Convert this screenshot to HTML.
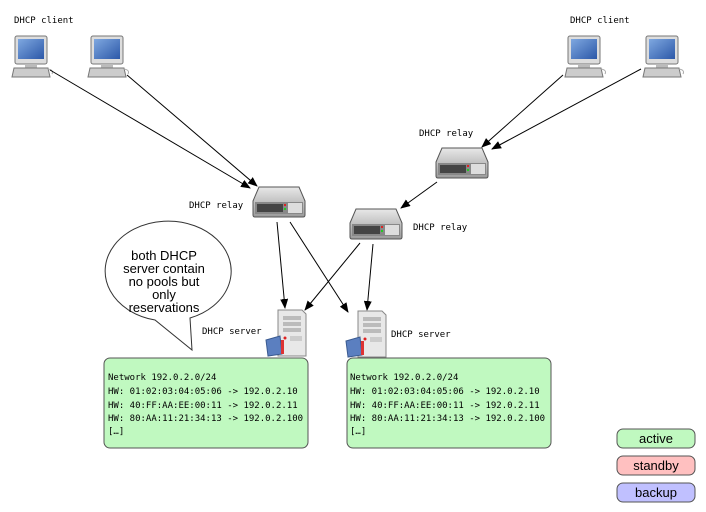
<!DOCTYPE html>
<html><head><meta charset="utf-8"><style>
body{margin:0;background:#fff;}
svg{display:block;}
.m{font-family:"DejaVu Sans Mono","Liberation Mono",monospace;font-size:9px;fill:#000;}
.s{font-family:"Liberation Sans",sans-serif;font-size:13px;fill:#000;}
</style></head><body>
<svg width="706" height="512" viewBox="0 0 706 512" xmlns="http://www.w3.org/2000/svg">
<defs>
<marker id="a" markerWidth="10" markerHeight="8" refX="9" refY="4" orient="auto" markerUnits="userSpaceOnUse"><path d="M0,0 L10,4 L0,8 z" fill="#000"/></marker>
<linearGradient id="scr" x1="0" y1="0" x2="1" y2="1"><stop offset="0" stop-color="#7fa8e0"/><stop offset="1" stop-color="#2c58a8"/></linearGradient>
<linearGradient id="sw" x1="0" y1="0" x2="0" y2="1"><stop offset="0" stop-color="#e8e8e8"/><stop offset="1" stop-color="#9a9a9a"/></linearGradient>
<g id="pc">
<rect x="3" y="0" width="32" height="28" rx="2" fill="#ddd" stroke="#777"/>
<rect x="6" y="3" width="26" height="20" fill="url(#scr)"/>
<rect x="13" y="28" width="12" height="4" fill="#bbb"/>
<path d="M2,32 L36,32 L38,41 L0,41 z" fill="#ccc" stroke="#777"/>
<path d="M36,33 q6,1 4,5" fill="none" stroke="#aaa"/>
</g>
<g id="sw1">
<path d="M6,0 L46,0 L52,14 L52,28 Q52,30 50,30 L2,30 Q0,30 0,28 L0,14 z" fill="url(#sw)" stroke="#555"/>
<rect x="2" y="15" width="48" height="12" fill="#888"/>
<rect x="4" y="17" width="26" height="8" fill="#444"/>
<rect x="31" y="17" width="2" height="2" fill="#d22"/><rect x="31" y="21" width="2" height="2" fill="#2c2"/>
<rect x="35" y="16" width="14" height="10" fill="#ddd"/>
</g>
<g id="srv">
<path d="M12,0 L36,0 L40,4 L40,46 L12,46 z" fill="#e8e8e8" stroke="#888"/>
<rect x="17" y="6" width="18" height="4" fill="#bbb"/><rect x="17" y="12" width="18" height="4" fill="#bbb"/><rect x="17" y="18" width="18" height="4" fill="#bbb"/>
<rect x="24" y="26" width="12" height="5" fill="#ccc"/>
<circle cx="19" cy="28" r="1.5" fill="#d22"/>
<path d="M0,30 L14,26 L16,44 L2,46 z" fill="#5b7fc0" stroke="#3a5a90"/>
<rect x="15" y="30" width="3" height="14" fill="#d33"/>
</g>
</defs>

<text class="m" x="14" y="23">DHCP client</text>
<text class="m" x="570" y="23">DHCP client</text>
<use href="#pc" x="12" y="36"/><use href="#pc" x="88" y="36"/>
<use href="#pc" x="565" y="36"/><use href="#pc" x="643" y="36"/>

<g stroke="#000" stroke-width="1" marker-end="url(#a)">
<line x1="50" y1="70" x2="250" y2="188"/>
<line x1="127" y1="75" x2="257" y2="186"/>
<line x1="563" y1="75" x2="482" y2="147"/>
<line x1="641" y1="69" x2="492" y2="149"/>
<line x1="437" y1="182" x2="401" y2="208"/>
<line x1="277" y1="222" x2="285" y2="308"/>
<line x1="290" y1="222" x2="348" y2="312"/>
<line x1="360" y1="243" x2="305" y2="310"/>
<line x1="373" y1="244" x2="367" y2="310"/>
</g>

<use href="#sw1" x="253" y="187"/>
<use href="#sw1" x="436" y="148"/>
<use href="#sw1" x="350" y="209"/>
<text class="m" x="189" y="208">DHCP relay</text>
<text class="m" x="419" y="136">DHCP relay</text>
<text class="m" x="413" y="230">DHCP relay</text>

<use href="#srv" x="266" y="310"/>
<use href="#srv" x="346" y="311"/>
<text class="m" x="202" y="334">DHCP server</text>
<text class="m" x="391" y="337">DHCP server</text>

<path d="M190,318 A63,50 0 1 0 155,320 L192,350 Z" fill="#fff" stroke="#333"/>
<text class="s" text-anchor="middle"><tspan x="164" y="260">both DHCP</tspan><tspan x="164" y="273">server contain</tspan><tspan x="164" y="286">no pools but</tspan><tspan x="164" y="299">only</tspan><tspan x="164" y="312">reservations</tspan></text>

<rect x="104" y="358" width="204" height="90" rx="6" fill="#c0f9c0" stroke="#555"/>
<rect x="347" y="358" width="204" height="90" rx="6" fill="#c0f9c0" stroke="#555"/>
<g class="m">
<text x="108" y="380">Network 192.0.2.0/24</text>
<text x="108" y="394">HW: 01:02:03:04:05:06 -&gt; 192.0.2.10</text>
<text x="108" y="408">HW: 40:FF:AA:EE:00:11 -&gt; 192.0.2.11</text>
<text x="108" y="421">HW: 80:AA:11:21:34:13 -&gt; 192.0.2.100</text>
<text x="108" y="434">[…]</text>
<text x="350" y="380">Network 192.0.2.0/24</text>
<text x="350" y="394">HW: 01:02:03:04:05:06 -&gt; 192.0.2.10</text>
<text x="350" y="408">HW: 40:FF:AA:EE:00:11 -&gt; 192.0.2.11</text>
<text x="350" y="421">HW: 80:AA:11:21:34:13 -&gt; 192.0.2.100</text>
<text x="350" y="434">[…]</text>
</g>

<rect x="617" y="429" width="78" height="19" rx="6" fill="#c0f9c0" stroke="#555"/>
<rect x="617" y="456" width="78" height="19" rx="6" fill="#ffc0c0" stroke="#555"/>
<rect x="617" y="483" width="78" height="19" rx="6" fill="#c0c0ff" stroke="#555"/>
<text class="s" text-anchor="middle" x="656" y="443">active</text>
<text class="s" text-anchor="middle" x="656" y="470">standby</text>
<text class="s" text-anchor="middle" x="656" y="497">backup</text>
</svg>
</body></html>
